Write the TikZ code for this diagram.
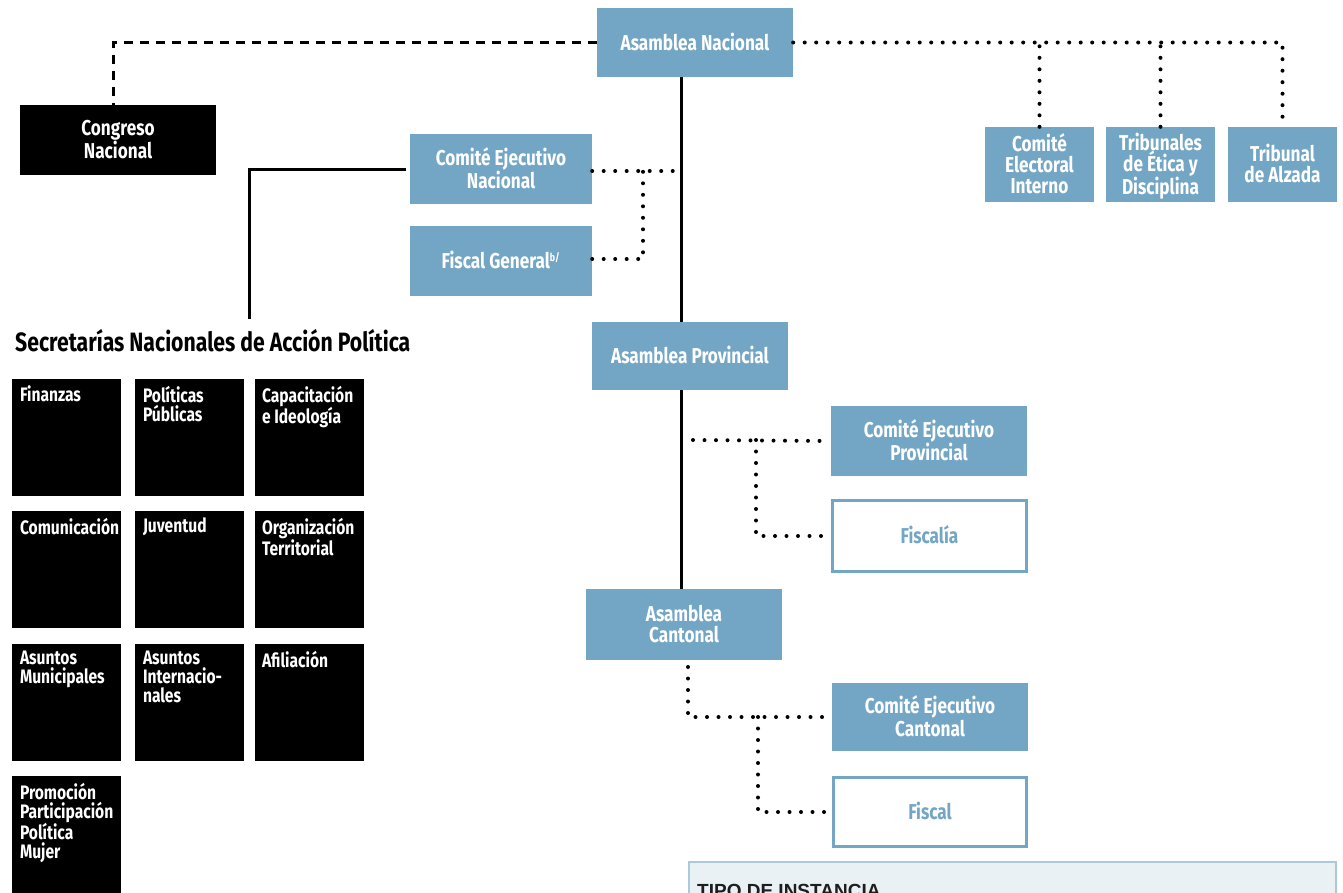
\documentclass[tikz,border=0pt]{standalone}
\usepackage{fontspec}
\setmainfont{Fira Sans}[FakeStretch=0.8]
\newfontfamily\legfont{Liberation Sans}
\definecolor{cblue}{RGB}{115,166,196}
\definecolor{legfill}{RGB}{233,241,245}
\definecolor{legline}{RGB}{170,201,221}
\tikzset{
  bluebox/.style={fill=cblue, text=white, font=\bfseries\fontsize{21.5}{21}\selectfont, align=center, inner sep=0pt, text depth=2pt},
  outbox/.style={draw=cblue, line width=3pt, fill=white, text=cblue, font=\bfseries\fontsize{21.5}{21}\selectfont, align=center, inner sep=0pt, text depth=2pt},
  blackbox/.style={fill=black, inner sep=0pt, minimum width=109pt, minimum height=117pt},
  sectext/.style={text=white, font=\bfseries\fontsize{19.5}{19}\selectfont, align=left, inner sep=0pt, anchor=north west},
  solidline/.style={line width=3pt, black},
  dashline/.style={line width=3pt, black, dash pattern=on 9pt off 7pt},
  dotline/.style={line width=4pt, black, line cap=round, dash pattern=on 0pt off 11.5pt},
}
\begin{document}
\begin{tikzpicture}[x=1pt,y=-1pt]
\useasboundingbox (0,0) rectangle (1343,892);
\clip (0,0) rectangle (1343,892);
% top level
\node[bluebox, minimum width=196pt, minimum height=69pt] (an) at (695,42.5) {Asamblea Nacional};
\node[fill=black, text=white, font=\bfseries\fontsize{21.5}{21}\selectfont, align=center, inner sep=0pt, text depth=2pt, minimum width=196pt, minimum height=70pt] (cn) at (118,140) {Congreso\\Nacional};
\node[bluebox, minimum width=182pt, minimum height=70pt] (cen) at (501,169) {Comité Ejecutivo\\Nacional};
\node[bluebox, minimum width=182pt, minimum height=70pt] (fg) at (501,261) {Fiscal General\textsuperscript{\fontsize{11}{11}\selectfont b/}};
\node[bluebox, minimum width=196pt, minimum height=68pt] (ap) at (690,356) {Asamblea Provincial};
\node[bluebox, minimum width=196pt, minimum height=70pt] (cep) at (929,441) {Comité Ejecutivo\\Provincial};
\node[outbox, minimum width=194pt, minimum height=71pt] (fia) at (929.5,536) {Fiscalía};
\node[bluebox, minimum width=196pt, minimum height=71pt] (ac) at (684,624.5) {Asamblea\\Cantonal};
\node[bluebox, minimum width=196pt, minimum height=68pt] (cec) at (930,717) {Comité Ejecutivo\\Cantonal};
\node[outbox, minimum width=193pt, minimum height=69pt] (fis) at (930,812) {Fiscal};
\node[bluebox, minimum width=109pt, minimum height=75pt] (cei) at (1039.5,164.5) {Comité\\Electoral\\Interno};
\node[bluebox, minimum width=109pt, minimum height=75pt] (ted) at (1160.5,164.5) {Tribunales\\de Ética y\\Disciplina};
\node[bluebox, minimum width=109pt, minimum height=75pt] (tda) at (1282.5,164.5) {Tribunal\\de Alzada};
% secretarias
\node[font=\bfseries\fontsize{26.5}{28}\selectfont, anchor=west, inner sep=0pt] (sech) at (15,341) {Secretarías Nacionales de Acción Política};
\node[blackbox] (s1) at (66.5,437.5) {};
\node[blackbox] (s2) at (189.5,437.5) {};
\node[blackbox] (s3) at (309.5,437.5) {};
\node[blackbox] (s4) at (66.5,569.5) {};
\node[blackbox] (s5) at (189.5,569.5) {};
\node[blackbox] (s6) at (309.5,569.5) {};
\node[blackbox] (s7) at (66.5,702.5) {};
\node[blackbox] (s8) at (189.5,702.5) {};
\node[blackbox] (s9) at (309.5,702.5) {};
\node[blackbox] (s10) at (66.5,834.5) {};
\node[sectext] (t1) at ([xshift=8pt,yshift=-7pt]s1.north west) {Finanzas};
\node[sectext] (t2) at ([xshift=8pt,yshift=-7pt]s2.north west) {Políticas\\Públicas};
\node[sectext] (t3) at ([xshift=7pt,yshift=-7pt]s3.north west) {Capacitación\\e Ideología};
\node[sectext] (t4) at ([xshift=8pt,yshift=-7pt]s4.north west) {Comunicación};
\node[sectext] (t5) at ([xshift=8pt,yshift=-7pt]s5.north west) {Juventud};
\node[sectext] (t6) at ([xshift=7pt,yshift=-7pt]s6.north west) {Organización\\Territorial};
\node[sectext] (t7) at ([xshift=8pt,yshift=-7pt]s7.north west) {Asuntos\\Municipales};
\node[sectext] (t8) at ([xshift=8pt,yshift=-7pt]s8.north west) {Asuntos\\Internacio-\\nales};
\node[sectext] (t9) at ([xshift=7pt,yshift=-7pt]s9.north west) {Afiliación};
\node[sectext] (t10) at ([xshift=8pt,yshift=-7pt]s10.north west) {Promoción\\Participación\\Política\\Mujer};
% legend
\node[draw=legline, line width=1.5pt, fill=legfill, minimum width=647pt, minimum height=60pt, inner sep=0pt, anchor=north west] (leg) at (688,861) {};
\node[font=\legfont\bfseries\fontsize{19}{20}\selectfont, text={rgb,255:red,30;green,30;blue,30}, anchor=base west, inner sep=0pt] (legt) at (697,897) {TIPO DE INSTANCIA};
% coordinates
\coordinate (sp) at (681,0);
\coordinate (secT) at (249,319);
\coordinate (j1) at (643,167);
\coordinate (pj) at (693,440);
\coordinate (pv) at (756,440);
\coordinate (cx) at (688,667);
\coordinate (cv) at (758,717);
% connectors
\draw[dashline] (an.west) -| ([xshift=-5pt]cn.north);
\draw[dotline] (an.east) -| (tda.north);
\draw[dotline] (cei.north) -- (cei.north |- an.east);
\draw[dotline] (ted.north) -- (ted.north |- an.east);
\draw[solidline] (an.south -| sp) -- (ap.north -| sp);
\draw[solidline] (ap.south -| sp) -- (ac.north -| sp);
\draw[solidline] ([xshift=-4pt]cen.west) -| (secT);
\draw[dotline] ([yshift=-2pt]cen.east) -- ([yshift=-2pt]cen.east -| sp);
\draw[dotline] ([yshift=2pt]fg.east) -| (j1);
\draw[dotline] (pj) -- (cep.west);
\draw[dotline] (pv) |- (fia.west);
\draw[dotline] (cx) |- (cec.west);
\draw[dotline] (cv) |- (fis.west);
\end{tikzpicture}
\end{document}
